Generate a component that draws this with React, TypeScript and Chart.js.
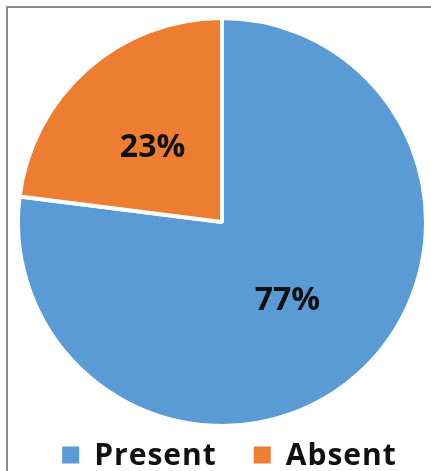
import React, { useEffect, useRef } from "react";
import { Chart, registerables } from "chart.js";

Chart.register(...registerables);

const categories = ["Present", "Absent"];
const values = [77, 23];
const colors = ["#5B9BD5", "#ED7D31"];
const valueLabels = ["77%", "23%"];

const labelPlugin = {
  id: "sliceLabels",
  afterDatasetsDraw(chart: any) {
    const ctx = chart.ctx;
    const meta = chart.getDatasetMeta(0);
    ctx.save();
    ctx.font = "bold 32px 'Open Sans'";
    ctx.fillStyle = "#111111";
    ctx.textAlign = "center";
    ctx.textBaseline = "middle";
    meta.data.forEach((arc: any, i: number) => {
      const p = arc.tooltipPosition();
      ctx.fillText(valueLabels[i], p.x - 2, p.y + 2);
    });
    ctx.restore();
  },
};

const legendPlugin = {
  id: "customLegend",
  afterDraw(chart: any) {
    const ctx = chart.ctx;
    const labels = chart.data.labels as string[];
    const bg = chart.data.datasets[0].backgroundColor as string[];
    ctx.save();
    ctx.font = "bold 30px 'Open Sans'";
    (ctx as any).letterSpacing = "1px";
    const box = 17;
    const gap = 15;
    const itemGap = 38;
    const widths = labels.map((l) => ctx.measureText(l).width - 1);
    const total =
      widths.reduce((a, w) => a + box + gap + w, 0) + itemGap * (labels.length - 1);
    const cx = (chart.chartArea.left + chart.chartArea.right) / 2 + 7;
    let x = cx - total / 2;
    const y = chart.chartArea.bottom + 27;
    ctx.textAlign = "left";
    ctx.textBaseline = "middle";
    labels.forEach((l, i) => {
      ctx.fillStyle = bg[i];
      ctx.fillRect(x, y - box / 2, box, box);
      x += box + gap;
      ctx.fillStyle = "#111111";
      ctx.fillText(l, x, y + 1);
      x += widths[i] + itemGap;
    });
    ctx.restore();
  },
};

export default function App() {
  const ref = useRef<HTMLCanvasElement | null>(null);
  useEffect(() => {
    if (!ref.current) return;
    const chart = new Chart(ref.current, {
      type: "pie",
      data: {
        labels: categories,
        datasets: [
          {
            data: values,
            backgroundColor: colors,
            borderColor: "#ffffff",
            borderWidth: 4,
          },
        ],
      },
      options: {
        animation: false,
        responsive: false,
        layout: { padding: { left: 16, right: 3, top: 16, bottom: 43 } },
        plugins: {
          legend: { display: false },
          tooltip: { enabled: false },
        },
      },
      plugins: [labelPlugin, legendPlugin],
    });
    return () => chart.destroy();
  }, []);
  return (
    <div
      style={{
        position: "absolute",
        left: 0,
        top: 0,
        width: 431,
        height: 471,
        overflow: "hidden",
        background: "#ffffff",
      }}
    >
      <div
        style={{
          position: "absolute",
          left: 6,
          top: 6,
          width: 440,
          height: 480,
          borderLeft: "2px solid #8a8a8a",
          borderTop: "2px solid #8a8a8a",
        }}
      />
      <canvas
        ref={ref}
        width={431}
        height={471}
        style={{ position: "absolute", left: 0, top: 0 }}
      />
    </div>
  );
}
